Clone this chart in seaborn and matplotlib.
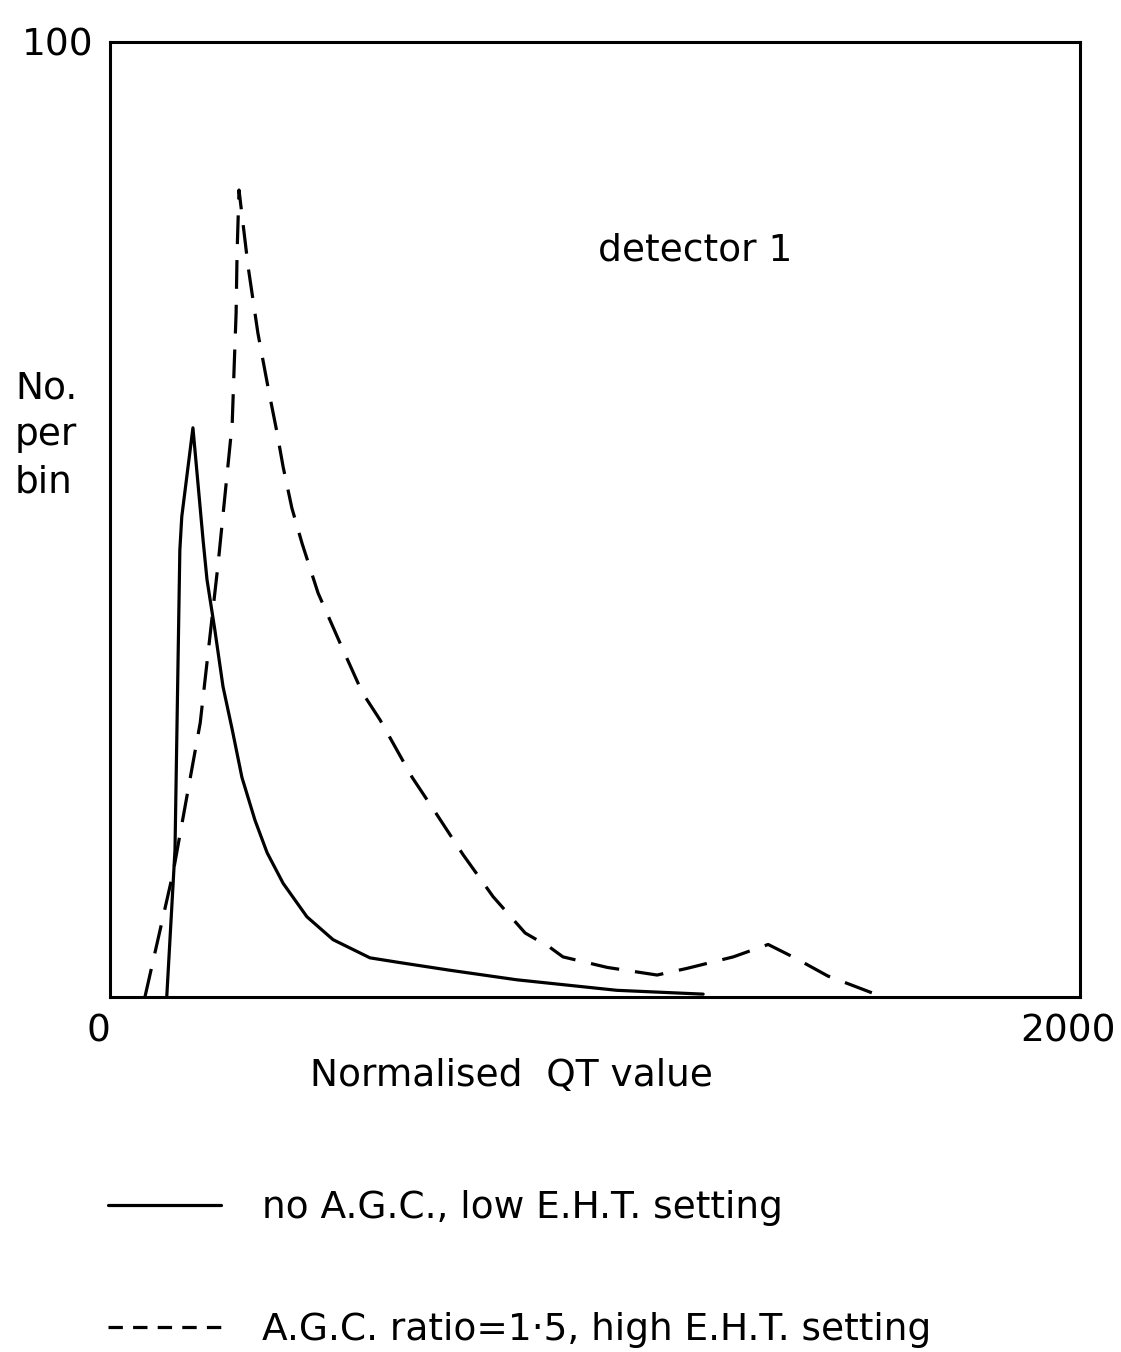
"""
Detector 1 QT spectrum: no AGC vs AGC ratio 1.5
"""
import matplotlib
matplotlib.use('Agg')
import matplotlib.pyplot as plt
import matplotlib.transforms as mtransforms
import seaborn as sns
import pandas as pd

# ---- data ----
qt_no_agc = [117, 134, 144, 148, 171, 192, 200, 216, 233, 252, 272, 299, 324, 357, 406, 460,
             536, 598, 701, 839, 1045, 1223]
n_no_agc = [0, 15.4, 46.8, 50.3, 59.6, 47.8, 43.7, 38.5, 32.5, 28.0, 23.0, 18.5, 15.1, 11.9, 8.4,
            6.0, 4.1, 3.6, 2.8, 1.8, 0.7, 0.3]

qt_agc = [72, 130, 186, 223, 252, 256, 260, 262, 266, 285, 305, 326, 344, 357, 375, 396, 429,
          474, 520, 557, 623, 674, 728, 790, 856, 907, 934, 1025, 1128, 1190, 1285, 1357,
          1412, 1480, 1573]
n_agc = [0, 13.0, 28.7, 45.4, 60.1, 66.0, 71.6, 77.9, 84.5, 76.4, 69.5, 63.8, 59.2, 55.5, 51.2,
         47.5, 42.3, 37.1, 31.9, 29.0, 23.0, 19.1, 14.9, 10.5, 6.7, 5.2, 4.2, 3.1, 2.3, 3.0,
         4.2, 5.5, 4.1, 2.2, 0.4]

label_no_agc = 'no A.G.C., low E.H.T. setting'
label_agc = 'A.G.C. ratio=1·5, high E.H.T. setting'

df_no = pd.DataFrame({'qt': qt_no_agc, 'n': n_no_agc})
df_agc = pd.DataFrame({'qt': qt_agc, 'n': n_agc})

sns.set_style('white')
plt.rcParams['font.family'] = ['DejaVu Sans']
plt.rcParams['text.color'] = 'black'
plt.rcParams['axes.labelcolor'] = 'black'
plt.rcParams['xtick.color'] = 'black'
plt.rcParams['ytick.color'] = 'black'

fig = plt.figure(figsize=(11.21, 13.52), dpi=100)
ax = fig.add_axes([110 / 1121, 1 - 997 / 1352, 970 / 1121, 955 / 1352])

lw = 2.3
sns.lineplot(data=df_no, x='qt', y='n', ax=ax, color='black', linewidth=lw,
             label=label_no_agc, sort=False)
sns.lineplot(data=df_agc, x='qt', y='n', ax=ax, color='black', linewidth=lw,
             label=label_agc, sort=False)
ax.lines[1].set_dashes((9, 5))

ax.set_xlim(0, 2000)
ax.set_ylim(0, 100)
for s in ax.spines.values():
    s.set_linewidth(2.2)
    s.set_color('black')

fs = 27
ax.set_xticks([0, 2000])
ax.set_xticklabels(['0', '2000'], fontsize=fs)
ax.set_yticks([100])
ax.set_yticklabels(['100'], fontsize=fs)
ax.tick_params(length=0, pad=12)
xl = ax.get_xticklabels()
xl[0].set_ha('right')
xl[1].set_ha('right')
xl[1].set_transform(xl[1].get_transform() +
                    mtransforms.ScaledTranslation(0.36, 0, fig.dpi_scale_trans))

ax.set_xlabel('Normalised  QT value', fontsize=fs)
ax.xaxis.set_label_coords(0.414, -0.064)
ax.set_ylabel('')
ax.text(-0.098, 0.588, 'No.\nper\nbin', transform=ax.transAxes, fontsize=fs,
        ha='left', va='center', linespacing=1.4)

ax.text(1006, 78.2, 'detector 1', fontsize=fs, ha='left', va='center')

leg = ax.legend(loc='upper left', bbox_to_anchor=(108 / 1121, 1 - 1190 / 1352),
                bbox_transform=fig.transFigure, frameon=False, fontsize=fs,
                handlelength=3.0, handletextpad=1.1, labelspacing=2.3,
                borderpad=0, borderaxespad=0)
for h in leg.get_lines():
    h.set_linewidth(lw)
leg.get_lines()[1].set_dashes((4.5, 3.2))

fig.savefig('out.png', dpi=100)
